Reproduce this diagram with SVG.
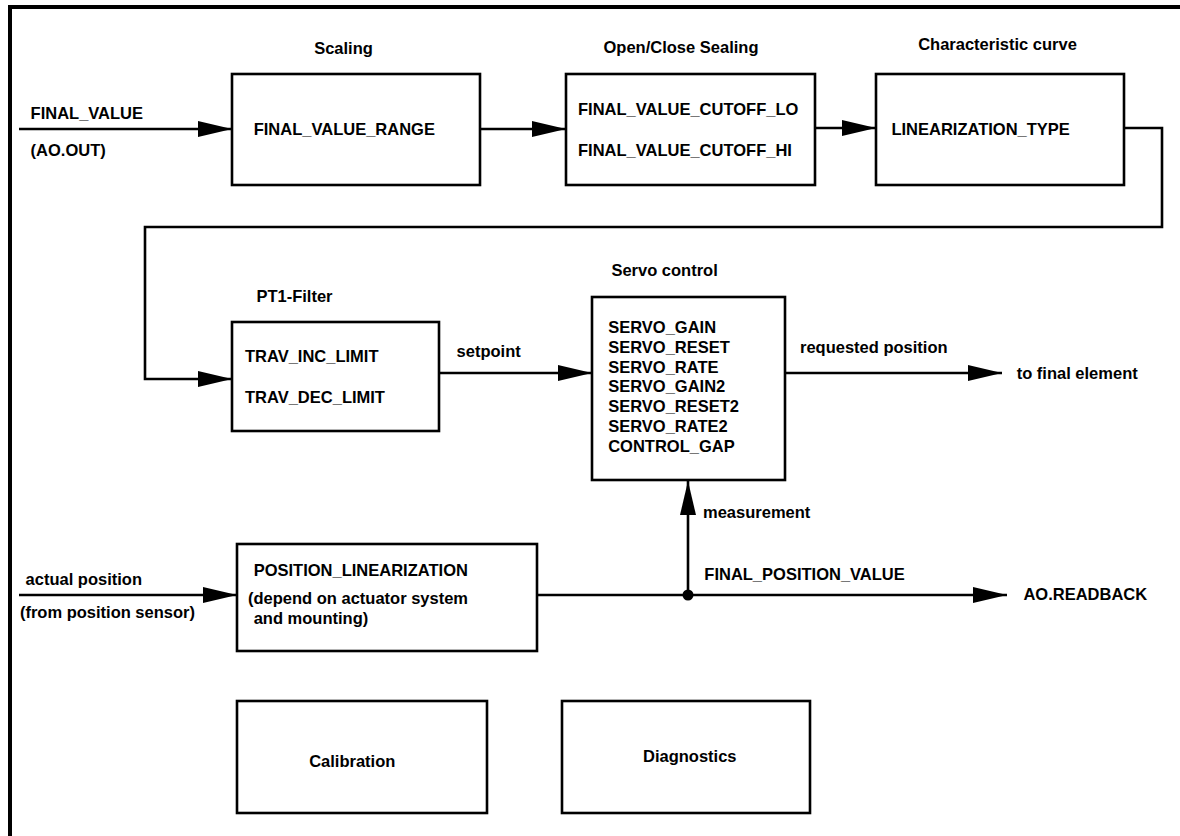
<svg xmlns="http://www.w3.org/2000/svg" width="1180" height="836" viewBox="0 0 1180 836">
<style>
text{font-family:"Liberation Sans",Arial,Helvetica,sans-serif;font-weight:bold;font-size:16.5px;fill:#000}
.mid{text-anchor:middle}
.box{fill:#fff;stroke:#000;stroke-width:2.6}
.wire{fill:none;stroke:#000;stroke-width:2.6}
</style>
<defs>
<marker id="arr" markerUnits="userSpaceOnUse" markerWidth="34" markerHeight="16" refX="34" refY="8" orient="auto">
<path d="M0,0 L34,8 L0,16 z" fill="#000"/>
</marker>
</defs>
<rect x="0" y="0" width="1180" height="836" fill="#fff"/>
<path d="M10,836 V7 H1180" fill="none" stroke="#000" stroke-width="4"/>

<g id="connectors">
<line class="wire" x1="19" y1="129" x2="232" y2="129" marker-end="url(#arr)"/>
<line class="wire" x1="480" y1="129" x2="566" y2="129" marker-end="url(#arr)"/>
<line class="wire" x1="815" y1="128" x2="876" y2="128" marker-end="url(#arr)"/>
<polyline class="wire" points="1124,128 1162,128 1162,227 145,227 145,379 232,379" marker-end="url(#arr)"/>
<line class="wire" x1="439" y1="373" x2="592" y2="373" marker-end="url(#arr)"/>
<line class="wire" x1="785" y1="373" x2="1002" y2="373" marker-end="url(#arr)"/>
<line class="wire" x1="19" y1="595" x2="237" y2="595" marker-end="url(#arr)"/>
<line class="wire" x1="537" y1="595" x2="1007" y2="595" marker-end="url(#arr)"/>
<line class="wire" x1="688" y1="595" x2="688" y2="481" marker-end="url(#arr)"/>
<circle cx="688" cy="595" r="5.5" fill="#000"/>
<text x="30.6" y="119">FINAL_VALUE</text>
<text x="30.6" y="156">(AO.OUT)</text>
<text x="456.6" y="357">setpoint</text>
<text x="800" y="352.5">requested position</text>
<text x="1016.7" y="378.5">to final element</text>
<text x="703" y="518">measurement</text>
<text x="704.3" y="580">FINAL_POSITION_VALUE</text>
<text x="1023.4" y="600">AO.READBACK</text>
<text x="25.6" y="585">actual position</text>
<text x="19.9" y="618">(from position sensor)</text>
</g>

<g id="scaling">
<text class="mid" x="343.5" y="54">Scaling</text>
<rect class="box" x="232" y="74" width="248" height="111"/>
<text x="253.7" y="135">FINAL_VALUE_RANGE</text>
</g>

<g id="open-close-sealing">
<text class="mid" x="681" y="52.7">Open/Close Sealing</text>
<rect class="box" x="566" y="74" width="249" height="111"/>
<text x="578" y="115">FINAL_VALUE_CUTOFF_LO</text>
<text x="578" y="156">FINAL_VALUE_CUTOFF_HI</text>
</g>

<g id="characteristic-curve">
<text class="mid" x="997.5" y="49.5">Characteristic curve</text>
<rect class="box" x="876" y="74" width="248" height="111"/>
<text x="891.4" y="135">LINEARIZATION_TYPE</text>
</g>

<g id="pt1-filter">
<text x="256.4" y="302">PT1-Filter</text>
<rect class="box" x="232" y="322" width="207" height="109"/>
<text x="245" y="362">TRAV_INC_LIMIT</text>
<text x="245" y="403">TRAV_DEC_LIMIT</text>
</g>

<g id="servo-control">
<text x="611.4" y="276">Servo control</text>
<rect class="box" x="592" y="297" width="193" height="183"/>
<text x="608.2" y="333">SERVO_GAIN</text>
<text x="608.2" y="352.8">SERVO_RESET</text>
<text x="608.2" y="372.6">SERVO_RATE</text>
<text x="608.2" y="392.4">SERVO_GAIN2</text>
<text x="608.2" y="412.2">SERVO_RESET2</text>
<text x="608.2" y="432">SERVO_RATE2</text>
<text x="608.2" y="452">CONTROL_GAP</text>
</g>

<g id="position-linearization">
<rect class="box" x="237" y="544" width="300" height="107"/>
<text x="253.7" y="575.5">POSITION_LINEARIZATION</text>
<text x="248" y="604">(depend on actuator system</text>
<text x="253.7" y="624">and mounting)</text>
</g>

<g id="calibration">
<rect class="box" x="237" y="701" width="250" height="112"/>
<text x="309.2" y="767">Calibration</text>
</g>

<g id="diagnostics">
<rect class="box" x="562" y="701" width="248" height="112"/>
<text x="643" y="762">Diagnostics</text>
</g>
</svg>
